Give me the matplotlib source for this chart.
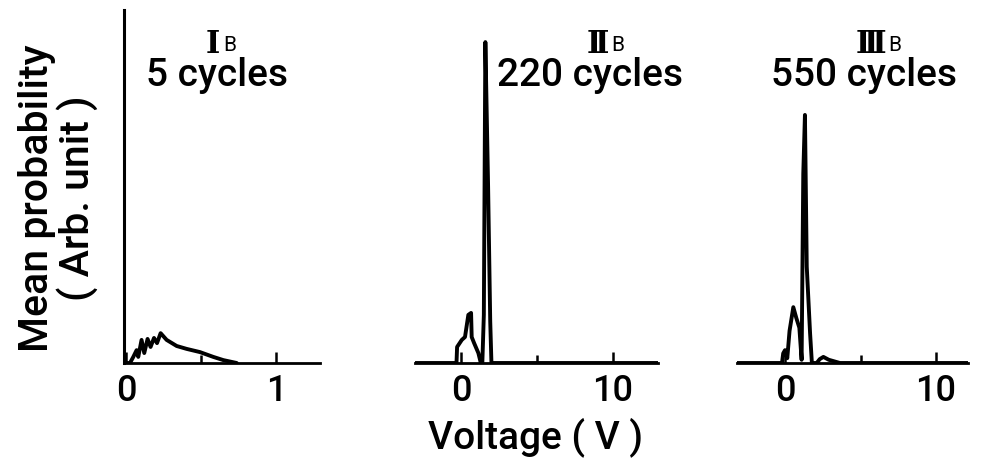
import matplotlib.pyplot as plt
from matplotlib.ticker import FixedLocator, NullFormatter

plt.rcParams["font.family"] = ["Roboto", "DejaVu Sans"]

# Mean probability vs voltage after a given number of cycles
numerals = ["Ⅰ", "Ⅱ", "Ⅲ"]
cycle_labels = ["5 cycles", "220 cycles", "550 cycles"]

# I_B, 5 cycles
v_5 = [0.0, 0.027, 0.049, 0.071, 0.082, 0.104, 0.122, 0.144, 0.164, 0.187,
       0.207, 0.231, 0.271, 0.338, 0.404, 0.493, 0.582, 0.649, 0.738]
p_5 = [0.0, 0.0, 0.019, 0.040, 0.019, 0.072, 0.031, 0.075, 0.050, 0.078,
       0.062, 0.093, 0.072, 0.053, 0.044, 0.034, 0.019, 0.009, 0.0]

# II_B, 220 cycles
v_220 = [-3.0, -0.30, -0.26, 0.05, 0.26, 0.48, 0.66, 0.70, 0.86, 1.14, 1.30,
         1.40, 1.50, 1.60, 1.78, 1.92, 2.00, 13.0]
p_220 = [0.0, 0.0, 0.05, 0.072, 0.081, 0.150, 0.156, 0.081, 0.062, 0.031, 0.0,
         0.0, 0.15, 1.0, 0.55, 0.13, 0.0, 0.0]

# III_B, 550 cycles
v_550 = [-3.2, -0.20, -0.12, 0.0, 0.15, 0.30, 0.55, 0.75, 0.95, 1.10, 1.21,
         1.32, 1.44, 1.66, 1.78, 2.10, 2.30, 2.54, 2.90, 3.64, 12.1]
p_550 = [0.0, 0.0, 0.03, 0.04, 0.015, 0.10, 0.174, 0.14, 0.11, 0.01, 0.59,
         0.773, 0.30, 0.093, 0.0, 0.0, 0.012, 0.019, 0.01, 0.0, 0.0]

W, H = 987, 459
fig = plt.figure(figsize=(W / 100, H / 100), dpi=100)
fig.patch.set_facecolor("white")


def px_axes(x0, x1, y_top, y_base):
    return fig.add_axes([x0 / W, (H - y_base) / H, (x1 - x0) / W, (y_base - y_top) / H])


ax1 = px_axes(124, 320, 10, 363)
ax2 = px_axes(415, 658, 10, 363)
ax3 = px_axes(737, 968, 10, 363)

panels = [
    (ax1, v_5, p_5, (-0.013, 1.293), [0, 1], [0.5]),
    (ax2, v_220, p_220, (-3.03, 12.96), [0, 10], [5]),
    (ax3, v_550, p_550, (-3.18, 12.12), [0, 10], [5]),
]

for ax, v, p, xlim, major, minor in panels:
    ax.plot(v, p, color="black", lw=2.8, solid_joinstyle="round",
            solid_capstyle="round")
    ax.set_xlim(*xlim)
    ax.set_ylim(0, 1.1)
    for side in ["top", "right", "left"]:
        ax.spines[side].set_visible(False)
    ax.spines["bottom"].set_linewidth(2.0)
    ax.set_yticks([])
    ax.xaxis.set_major_locator(FixedLocator(major))
    ax.xaxis.set_minor_locator(FixedLocator(minor))
    ax.xaxis.set_minor_formatter(NullFormatter())
    ax.tick_params(axis="x", which="major", direction="in", length=8, width=1.8,
                   pad=8, labelsize=26)
    ax.tick_params(axis="x", which="minor", direction="in", length=6, width=1.8)
    for t in ax.get_xticklabels():
        t.set_fontweight("medium")
    ax.set_facecolor("none")

ax1.spines["left"].set_visible(True)
ax1.spines["left"].set_linewidth(2.2)


def ftext(x, y, s, **kw):
    return fig.text(x / W, 1 - y / H, s, **kw)


# panel headings: roman numeral with subscript B, then cycle count
heads = [(220, 223, 217), (609, 611, 590), (886, 888, 864)]
for (xr, xb, xc), num, lab in zip(heads, numerals, cycle_labels):
    ftext(xr, 53, num, ha="right", va="baseline", fontsize=22,
          family="DejaVu Serif", fontweight="bold")
    ftext(xb, 51, "B", ha="left", va="baseline", fontsize=15)
    ftext(xc, 86, lab, ha="center", va="baseline", fontsize=28,
          fontweight="medium")

ftext(536, 448, "Voltage ( V )", ha="center", va="baseline", fontsize=28,
      fontweight="medium")
ftext(58, 198, "Mean probability\n( Arb. unit )", ha="center", va="center",
      rotation=90, fontsize=29.5, fontweight="medium", multialignment="center",
      linespacing=1.0)

fig.savefig("out.png", dpi=100)
